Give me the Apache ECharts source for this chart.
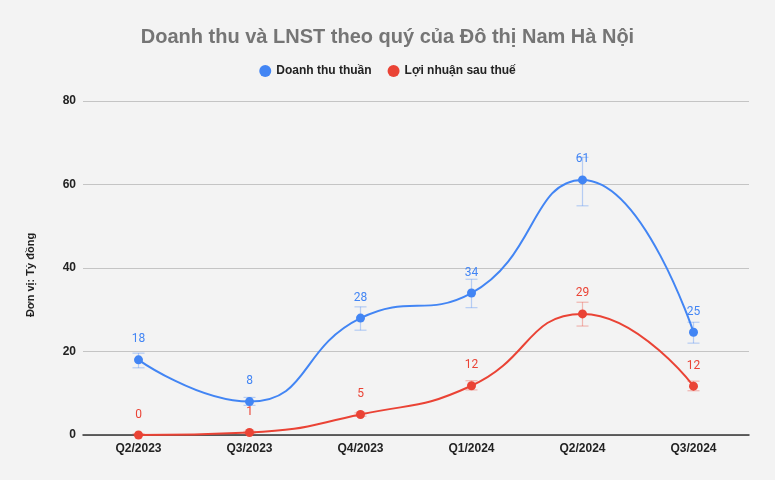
<!DOCTYPE html>
<html>
<head>
<meta charset="utf-8">
<script src="https://cdn.jsdelivr.net/npm/echarts@6/dist/echarts.min.js"></script>
<style>
html,body{margin:0;padding:0;background:#f3f3f3;}
#chart{width:775px;height:480px;}
</style>
</head>
<body>
<div id="chart"></div>
<script>
const categories = ['Q2/2023', 'Q3/2023', 'Q4/2023', 'Q1/2024', 'Q2/2024', 'Q3/2024'];
const revenue = [18, 8, 28, 34, 61.1, 24.6];
const revenueLabels = ['18', '8', '28', '34', '61', '25'];
const revenueLow = [16.1, 7.1, 25.1, 30.5, 54.9, 22.0];
const revenueHigh = [19.6, 9.0, 30.7, 37.3, 66.5, 27.0];
const profit = [0, 0.6, 4.9, 11.8, 29, 11.7];
const profitLabels = ['0', '1', '5', '12', '29', '12'];
const profitLow = [0, 0.3, 4.5, 10.8, 26.1, 10.6];
const profitHigh = [0.3, 0.9, 5.3, 13.0, 31.8, 12.9];
const yTicks = [0, 20, 40, 60, 80];

const BLUE = '#4285f4', RED = '#ea4335';

function errorSeries(low, high, color) {
  return {
    type: 'custom',
    silent: true,
    z: 1,
    data: categories.map((c, i) => [i, low[i], high[i]]),
    renderItem: function (params, api) {
      const x = api.value(0);
      const lo = api.coord([x, api.value(1)]);
      const hi = api.coord([x, api.value(2)]);
      const hw = 6;
      const style = { stroke: color, lineWidth: 1.2, opacity: 0.35 };
      return {
        type: 'group',
        children: [
          { type: 'line', shape: { x1: lo[0], y1: lo[1], x2: hi[0], y2: hi[1] }, style: style },
          { type: 'line', shape: { x1: lo[0] - hw, y1: lo[1], x2: lo[0] + hw, y2: lo[1] }, style: style },
          { type: 'line', shape: { x1: hi[0] - hw, y1: hi[1], x2: hi[0] + hw, y2: hi[1] }, style: style }
        ]
      };
    }
  };
}

function lineSeries(name, data, labels, color) {
  return {
    name: name,
    type: 'line',
    smooth: 0.5,
    z: 3,
    data: data,
    symbol: 'circle',
    symbolSize: 9,
    lineStyle: { width: 2, color: color },
    itemStyle: { color: color },
    label: {
      show: true,
      position: 'top',
      distance: 10,
      color: color,
      fontFamily: 'Roboto',
      fontSize: 12,
      formatter: p => labels[p.dataIndex]
    }
  };
}

const chart = echarts.init(document.getElementById('chart'));
chart.setOption({
  backgroundColor: '#f3f3f3',
  animation: false,
  title: {
    text: 'Doanh thu và LNST theo quý của Đô thị Nam Hà Nội',
    left: 'center',
    top: 22,
    textStyle: { fontFamily: 'Liberation Sans', fontSize: 20, fontWeight: 'bold', color: '#757575' }
  },
  legend: {
    top: 60,
    left: 'center',
    itemGap: 16,
    icon: 'circle',
    itemWidth: 12,
    itemHeight: 12,
    textStyle: { fontFamily: 'Liberation Sans', fontSize: 12, fontWeight: 'bold', color: '#222' },
    data: ['Doanh thu thuần', 'Lợi nhuận sau thuế']
  },
  grid: { left: 83, right: 26, top: 101, bottom: 45 },
  xAxis: {
    type: 'category',
    data: categories,
    boundaryGap: true,
    axisLine: { lineStyle: { color: '#333', width: 1.5 } },
    axisTick: { show: false },
    axisLabel: { fontFamily: 'Liberation Sans', fontSize: 12, fontWeight: 'bold', color: '#222', margin: 8 }
  },
  yAxis: {
    type: 'value',
    min: yTicks[0],
    max: yTicks[yTicks.length - 1],
    interval: 20,
    name: 'Đơn vị: Tỷ đồng',
    nameLocation: 'middle',
    nameRotate: 90,
    nameGap: 47,
    nameTextStyle: { fontFamily: 'Liberation Sans', fontSize: 11, fontWeight: 'bold', color: '#222', padding: [0, 14, 0, 0] },
    axisLine: { show: false },
    axisTick: { show: false },
    splitLine: { lineStyle: { color: '#c4c4c4', width: 1 } },
    axisLabel: { fontFamily: 'Liberation Sans', fontSize: 12, fontWeight: 'bold', color: '#222', margin: 7 }
  },
  series: [
    lineSeries('Doanh thu thuần', revenue, revenueLabels, BLUE),
    lineSeries('Lợi nhuận sau thuế', profit, profitLabels, RED),
    errorSeries(revenueLow, revenueHigh, BLUE),
    errorSeries(profitLow, profitHigh, RED)
  ]
});
</script>
</body>
</html>
